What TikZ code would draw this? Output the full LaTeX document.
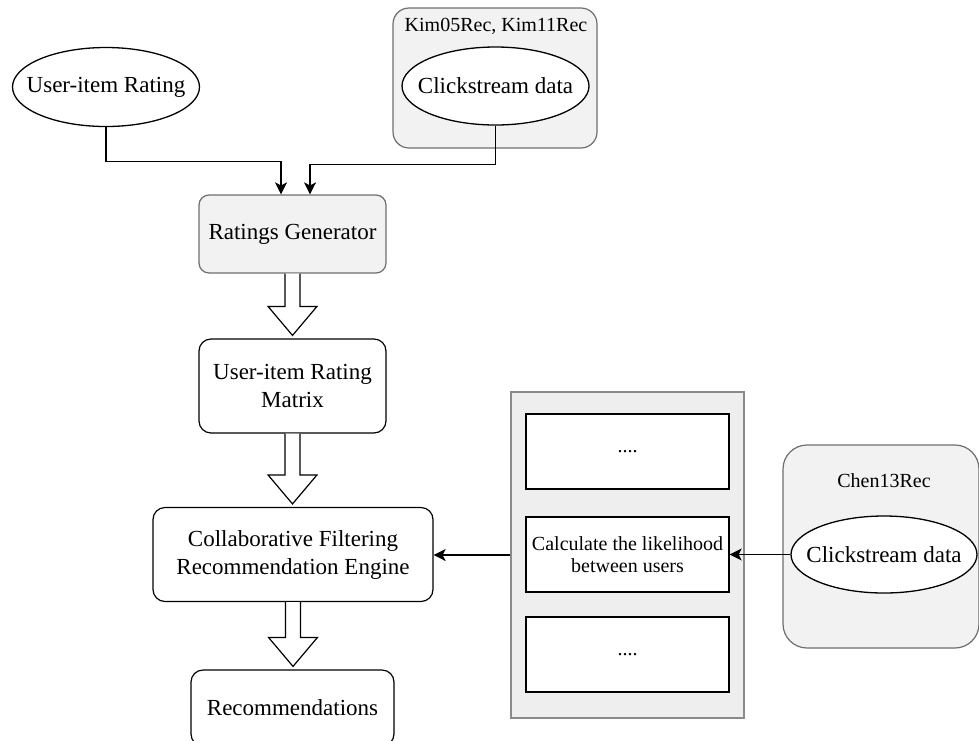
\documentclass[tikz,border=0pt]{standalone}
\usepackage{fontspec}
\setmainfont{Liberation Serif}
\usetikzlibrary{shapes.geometric,arrows.meta,calc}
\definecolor{boxgray}{HTML}{F2F2F2}
\definecolor{edgegray}{HTML}{6E6E6E}
\definecolor{panelgray}{HTML}{EEEEEE}
\definecolor{paneledge}{HTML}{8A8A8A}
\newcommand{\hollowarrow}[2]{%
  \draw[harrow] let \p1=(#1.south), \p2=(#2.north) in
    (\x1-7.5pt,\y1) -- (\x1-7.5pt,\y2+32pt) -- (\x1-24.5pt,\y2+32pt) --
    (\x1,\y2+3pt) -- (\x1+24.5pt,\y2+32pt) -- (\x1+7.5pt,\y2+32pt) --
    (\x1+7.5pt,\y1);}
\begin{document}
\begin{tikzpicture}[x=1pt,y=-1pt,
  every node/.style={inner sep=0pt, align=center, font=\fontsize{23}{28}\selectfont},
  smalltext/.style={font=\fontsize{20}{22}\selectfont},
  ell/.style={ellipse, draw=black, fill=white, line width=1.3pt},
  groupbox/.style={rectangle, draw=edgegray, fill=boxgray, line width=1.2pt},
  procbox/.style={rectangle, draw=black, fill=white, line width=1.2pt, rounded corners=12pt},
  plainbox/.style={rectangle, draw=black, fill=white, line width=1.3pt,
     minimum width=203pt, minimum height=75pt, smalltext},
  conn/.style={line width=1.4pt, -{Stealth[length=12pt,width=12pt,inset=3pt]}},
  harrow/.style={draw=black, fill=white, line width=1.2pt, line join=miter}]
\useasboundingbox (0,0) rectangle (979,740);
\clip (0,0) rectangle (979,740);

% top left input
\node[ell, minimum width=187pt, minimum height=79pt] (uir) at (106,87)
  {\makebox[0pt]{User-item Rating}};

% Kim group
\node[groupbox, rounded corners=16pt, minimum width=204pt, minimum height=140pt] (kim) at (495,78) {};
\node[smalltext] (kimlabel) at (496,26) {Kim05Rec, Kim11Rec};
\node[ell, minimum width=187pt, minimum height=78pt] (cs1) at (495.5,86)
  {\makebox[0pt]{Clickstream data}};

% main column
\node[groupbox, rounded corners=10pt, minimum width=187pt, minimum height=78pt] (rg) at (292.5,234)
  {Ratings Generator};
\node[procbox, minimum width=187pt, minimum height=94pt] (uim) at (292.5,386)
  {User-item Rating\\Matrix};
\node[procbox, minimum width=280pt, minimum height=94pt] (cf) at (293,554.5)
  {Collaborative Filtering\\Recommendation Engine};
\node[procbox, minimum width=203pt, minimum height=76pt] (rec) at (292.5,708)
  {Recommendations};

% right panel
\node[rectangle, draw=paneledge, fill=panelgray, line width=1.2pt,
  minimum width=233pt, minimum height=326pt] (panel) at (627.5,555) {};
\node[plainbox] (b1) at (627.5,451.5) {....};
\node[plainbox] (b2) at (627.5,554.5) {Calculate the likelihood\\between users};
\node[plainbox] (b3) at (627.5,654.5) {....};

% Chen group
\node[groupbox, rounded corners=24pt, minimum width=196pt, minimum height=203pt] (chen) at (881,546.5) {};
\node[smalltext] (chenlabel) at (884,481) {Chen13Rec};
\node[ell, minimum width=186pt, minimum height=77pt] (cs2) at (884,554.5)
  {\makebox[0pt]{Clickstream data}};

% connectors
\draw[conn] (uir.south) -- ++(0,34.5) -| ($(rg.north)+(-11.5,0)$);
\draw[conn] (cs1.south) -- ++(0,39) -| ($(rg.north)+(17.5,0)$);
\draw[conn] (panel.west) -- (cf.east |- panel.west);
\draw[conn] (cs2.west) -- (b2.east);

% hollow arrows
\hollowarrow{rg}{uim}
\hollowarrow{uim}{cf}
\hollowarrow{cf}{rec}
\end{tikzpicture}
\end{document}
